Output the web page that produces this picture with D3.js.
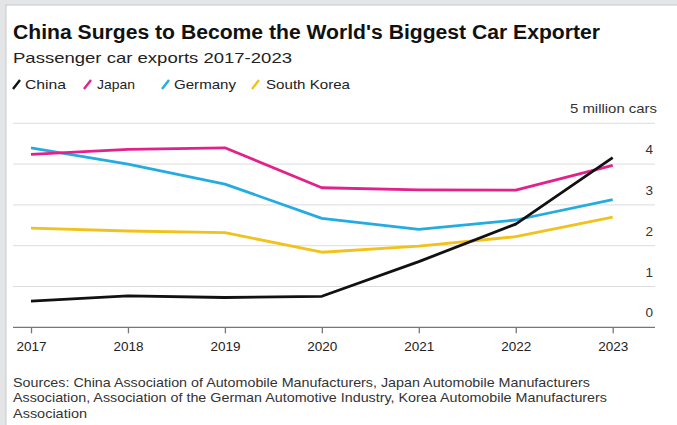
<!DOCTYPE html>
<html>
<head>
<meta charset="utf-8">
<script src="https://cdn.jsdelivr.net/npm/d3@7"></script>
<style>
  body { margin: 0; background: #e4e5e7; }
  text { font-family: "Liberation Sans", Arial, Helvetica, sans-serif; }
</style>
</head>
<body>
<div class="chartBox"></div>
<script>
// data, millions of passenger cars exported
var years = [2017, 2018, 2019, 2020, 2021, 2022, 2023];
var china = [0.64, 0.77, 0.73, 0.76, 1.61, 2.53, 4.16];
var japan = [4.24, 4.36, 4.40, 3.42, 3.37, 3.36, 3.97];
var germany = [4.40, 4.00, 3.51, 2.67, 2.40, 2.63, 3.13];
var southKorea = [2.43, 2.36, 2.32, 1.84, 1.99, 2.22, 2.70];
var yTicks = [0, 1, 2, 3, 4];
var sources = [
  'Sources: China Association of Automobile Manufacturers, Japan Automobile Manufacturers',
  'Association, Association of the German Automotive Industry, Korea Automobile Manufacturers',
  'Association'
];

var w = 677, h = 425;

var series = [
  { name: 'South Korea', values: southKorea, color: '#f1c21b' },
  { name: 'Germany', values: germany, color: '#24ace2' },
  { name: 'Japan', values: japan, color: '#e2218b' },
  { name: 'China', values: china, color: '#111111' }
];

var svg = d3.select('div.chartBox')
  .append('svg')
  .attr('width', w)
  .attr('height', h)
  .style('display', 'block');

// grey frame + white panel
svg.append('rect')
  .attr('x', 0).attr('y', 0).attr('width', w).attr('height', h)
  .attr('fill', '#e4e5e7');
svg.append('rect')
  .attr('x', 6).attr('y', 5).attr('width', w).attr('height', h)
  .attr('fill', '#fff')
  .attr('stroke', '#c6c7c9')
  .attr('stroke-width', 1);

var x = d3.scaleLinear().domain([2017, 2023]).range([31, 612.7]);
var y = d3.scaleLinear().domain([0, 5]).range([327.3, 123.3]);

var gridLeft = 13, gridRight = 655;

// gridlines (skip 0, that is the axis)
svg.selectAll('line.grid')
  .data([1, 2, 3, 4, 5])
  .enter()
  .append('line')
  .attr('class', 'grid')
  .attr('x1', gridLeft)
  .attr('x2', gridRight)
  .attr('y1', function(d) { return y(d); })
  .attr('y2', function(d) { return y(d); })
  .attr('stroke', '#dcdcdc')
  .attr('stroke-width', 1);

// y labels sit above their gridline
svg.selectAll('text.ylab')
  .data(yTicks)
  .enter()
  .append('text')
  .attr('class', 'ylab')
  .attr('x', 653)
  .attr('y', function(d) { return y(d) - 10; })
  .attr('text-anchor', 'end')
  .attr('font-size', 13.5)
  .attr('fill', '#333')
  .text(function(d) { return d; });

svg.append('text')
  .attr('x', 657)
  .attr('y', 113.3)
  .attr('text-anchor', 'end')
  .attr('font-size', 13.5)
  .attr('fill', '#333')
  .attr('textLength', 87)
  .attr('lengthAdjust', 'spacingAndGlyphs')
  .text('5 million cars');

// x axis
var xAxis = d3.axisBottom(x)
  .tickValues(years)
  .tickFormat(d3.format('d'))
  .tickSize(6)
  .tickPadding(8)
  .tickSizeOuter(0);

var gx = svg.append('g')
  .attr('transform', 'translate(0,' + y(0) + ')')
  .call(xAxis);
gx.select('.domain').remove();
gx.insert('line', ':first-child')
  .attr('x1', gridLeft).attr('x2', gridRight)
  .attr('stroke', '#777').attr('stroke-width', 1.3);
gx.selectAll('.tick line').attr('stroke', '#777').attr('stroke-width', 1.3);
gx.selectAll('.tick text')
  .attr('font-size', 13.5)
  .attr('font-family', '"Liberation Sans", Arial, sans-serif')
  .attr('fill', '#222');

// lines
var line = d3.line()
  .x(function(d, i) { return x(years[i]); })
  .y(function(d) { return y(d); });

svg.selectAll('path.series')
  .data(series)
  .enter()
  .append('path')
  .attr('class', 'series')
  .attr('d', function(d) { return line(d.values); })
  .attr('fill', 'none')
  .attr('stroke', function(d) { return d.color; })
  .attr('stroke-width', 2.8)
  .attr('stroke-linejoin', 'round');

// title block
svg.append('text')
  .attr('x', 13).attr('y', 38.5)
  .attr('font-size', 19.5).attr('font-weight', 'bold')
  .attr('fill', '#111')
  .attr('textLength', 587)
  .attr('lengthAdjust', 'spacingAndGlyphs')
  .text("China Surges to Become the World's Biggest Car Exporter");

svg.append('text')
  .attr('x', 13).attr('y', 62.7)
  .attr('font-size', 15)
  .attr('fill', '#222')
  .attr('textLength', 279)
  .attr('lengthAdjust', 'spacingAndGlyphs')
  .text('Passenger car exports 2017-2023');

// legend: slash + name
var legend = [
  { name: 'China', color: '#111111', sx: 13, tx: 25, tw: 41 },
  { name: 'Japan', color: '#e2218b', sx: 84, tx: 97, tw: 38 },
  { name: 'Germany', color: '#24ace2', sx: 162, tx: 174, tw: 62 },
  { name: 'South Korea', color: '#f1c21b', sx: 252, tx: 266, tw: 84 }
];

var lg = svg.selectAll('g.legend')
  .data(legend)
  .enter()
  .append('g')
  .attr('class', 'legend');

lg.append('line')
  .attr('x1', function(d) { return d.sx; })
  .attr('x2', function(d) { return d.sx + 7; })
  .attr('y1', 89)
  .attr('y2', 80)
  .attr('stroke', function(d) { return d.color; })
  .attr('stroke-width', 2.4);

lg.append('text')
  .attr('x', function(d) { return d.tx; })
  .attr('y', 89)
  .attr('font-size', 13.5)
  .attr('fill', '#222')
  .attr('textLength', function(d) { return d.tw; })
  .attr('lengthAdjust', 'spacingAndGlyphs')
  .text(function(d) { return d.name; });

// sources
var srcWidths = [577, 594, 74];
svg.selectAll('text.src')
  .data(sources)
  .enter()
  .append('text')
  .attr('class', 'src')
  .attr('x', 13)
  .attr('y', function(d, i) { return 386.7 + i * 15.4; })
  .attr('font-size', 13.5)
  .attr('fill', '#333')
  .attr('textLength', function(d, i) { return srcWidths[i]; })
  .attr('lengthAdjust', 'spacingAndGlyphs')
  .text(function(d) { return d; });
</script>
</body>
</html>
